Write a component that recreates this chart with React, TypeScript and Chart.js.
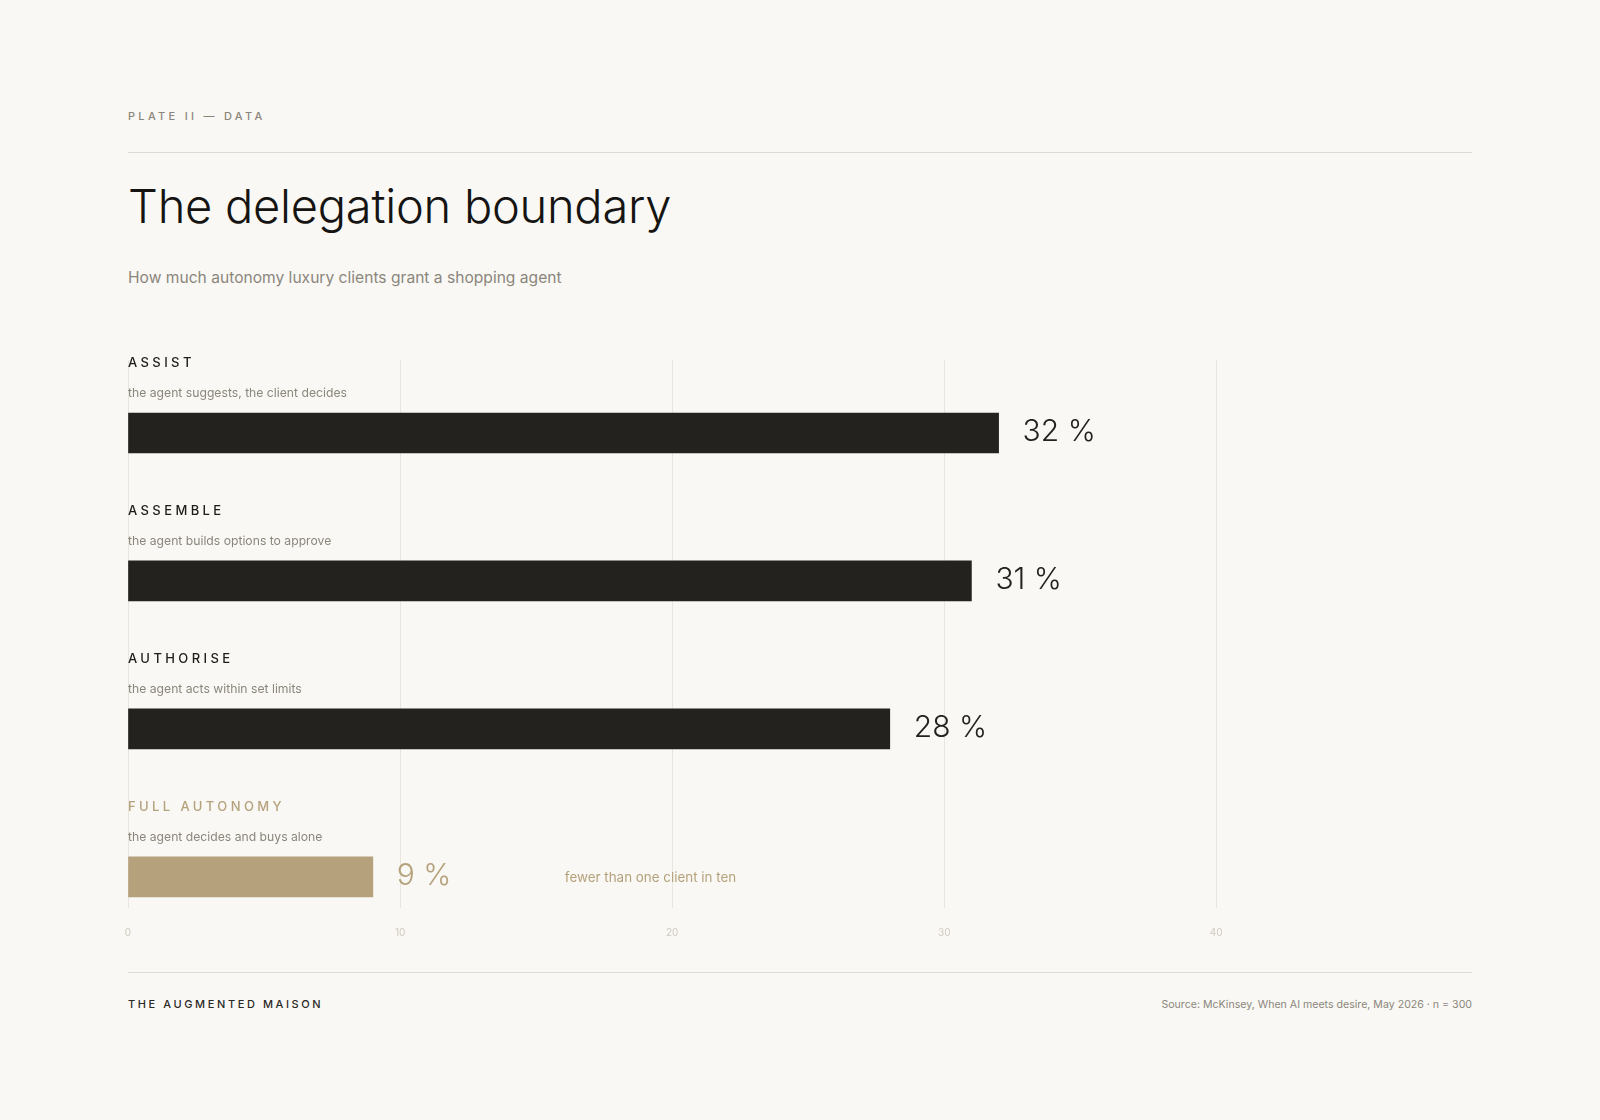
import React, { useEffect, useRef } from 'react';
import { Chart, registerables, Plugin } from 'chart.js';

Chart.register(...registerables);

// data
const categories: string[] = ['ASSIST', 'ASSEMBLE', 'AUTHORISE', 'FULL AUTONOMY'];
const descriptions: string[] = [
    'the agent suggests, the client decides',
    'the agent builds options to approve',
    'the agent acts within set limits',
    'the agent decides and buys alone',
];
const shares: number[] = [32, 31, 28, 9];
const xTicks: number[] = [0, 10, 20, 30, 40];
const highlighted = 'FULL AUTONOMY';
const note = 'fewer than one client in ten';

const INK = '#24221e';
const TAN = '#b5a27d';
const GREY = '#8b867c';
const BG = '#f9f8f4';
const FONT = 'Inter, "Noto Sans", sans-serif';

const labelsPlugin: Plugin<'bar'> = {
    id: 'rowLabels',
    afterDatasetsDraw(chart) {
        const { ctx, chartArea } = chart;
        const meta = chart.getDatasetMeta(0);
        meta.data.forEach((bar: any, i: number) => {
            const isHi = categories[i] === highlighted;
            const top = bar.y - 20;
            ctx.save();
            ctx.textAlign = 'left';
            ctx.textBaseline = 'alphabetic';

            // category name
            ctx.font = `500 13px ${FONT}`;
            (ctx as any).letterSpacing = '3.4px';
            ctx.fillStyle = isHi ? TAN : '#1f1d1a';
            ctx.fillText(categories[i], chartArea.left, top - 46);

            // description
            (ctx as any).letterSpacing = '0px';
            ctx.font = `400 12.2px ${FONT}`;
            ctx.fillStyle = GREY;
            ctx.fillText(descriptions[i], chartArea.left, top - 16);

            // value
            ctx.font = `300 30px ${FONT}`;
            ctx.fillStyle = isHi ? TAN : INK;
            ctx.fillText(`${shares[i]} %`, bar.x + 24, bar.y + 8);

            if (isHi) {
                ctx.font = `400 13.4px ${FONT}`;
                ctx.fillStyle = TAN;
                ctx.fillText(note, bar.x + 192, bar.y + 5);
            }
            ctx.restore();
        });
    },
};

const DelegationChart: React.FC = () => {
    const canvasRef = useRef<HTMLCanvasElement>(null);

    useEffect(() => {
        const ctx = canvasRef.current?.getContext('2d');
        if (!ctx) return;
        const chart = new Chart(ctx, {
            type: 'bar',
            data: {
                datasets: [
                    {
                        data: shares.map((v, i) => ({ x: v, y: i })) as any,
                        backgroundColor: categories.map((c) => (c === highlighted ? TAN : INK)),
                        borderWidth: 0,
                        barThickness: 40,
                    },
                ],
            },
            options: {
                indexAxis: 'y',
                animation: false,
                responsive: true,
                maintainAspectRatio: false,
                layout: { padding: { left: 128, right: 128, top: 30, bottom: 0 } },
                plugins: { legend: { display: false }, tooltip: { enabled: false } },
                scales: {
                    x: {
                        type: 'linear',
                        min: 0,
                        max: 49.4,
                        afterBuildTicks: (scale: any) => {
                            scale.ticks = xTicks.map((v) => ({ value: v }));
                        },
                        afterFit: (scale: any) => {
                            scale.height = 62;
                        },
                        grid: { color: '#e9e6e0', lineWidth: 1, drawTicks: false },
                        border: { display: false },
                        ticks: {
                            padding: 19,
                            color: '#cfcac1',
                            font: { family: FONT, size: 10 },
                        },
                    },
                    y: {
                        type: 'linear',
                        reverse: true,
                        offset: false,
                        bounds: 'data',
                        min: -0.493,
                        max: 3.21,
                        grid: { offset: false },
                        display: false,
                    },
                },
            },
            plugins: [labelsPlugin],
        });
        return () => chart.destroy();
    }, []);

    return <canvas ref={canvasRef} />;
};

const App: React.FC = () => {
    useEffect(() => {
        document.body.style.margin = '0';
        document.body.style.background = BG;
    }, []);

    const abs = (top: number, extra: React.CSSProperties = {}): React.CSSProperties => ({
        position: 'absolute',
        left: 128,
        top,
        margin: 0,
        whiteSpace: 'nowrap',
        ...extra,
    });

    return (
        <div style={{ position: 'relative', width: 1600, height: 1120, background: BG, fontFamily: FONT, overflow: 'hidden' }}>
            <div style={abs(111, { fontSize: 11, lineHeight: '11px', letterSpacing: '3.3px', color: GREY, fontWeight: 500 })}>
                PLATE II — DATA
            </div>
            <div style={{ position: 'absolute', left: 128, width: 1344, top: 152, height: 1, background: '#dedbd4' }} />
            <div style={abs(182, { fontSize: 47, lineHeight: '47px', fontWeight: 300, letterSpacing: '-0.25px', color: '#151412' })}>
                The delegation boundary
            </div>
            <div style={abs(270, { fontSize: 15.6, lineHeight: '16px', color: GREY })}>
                How much autonomy luxury clients grant a shopping agent
            </div>
            <div style={{ position: 'absolute', left: 0, top: 330, width: 1600, height: 640 }}>
                <DelegationChart />
            </div>
            <div style={{ position: 'absolute', left: 128, width: 1344, top: 972, height: 1, background: '#dedbd4' }} />
            <div style={abs(999, { fontSize: 11, lineHeight: '11px', letterSpacing: '2.6px', color: '#2b2925', fontWeight: 500 })}>
                THE AUGMENTED MAISON
            </div>
            <div style={{ ...abs(999, { fontSize: 10.6, lineHeight: '11px', color: GREY }), left: undefined, right: 128 }}>
                Source: McKinsey, When AI meets desire, May 2026 · n = 300
            </div>
        </div>
    );
};

export default App;
